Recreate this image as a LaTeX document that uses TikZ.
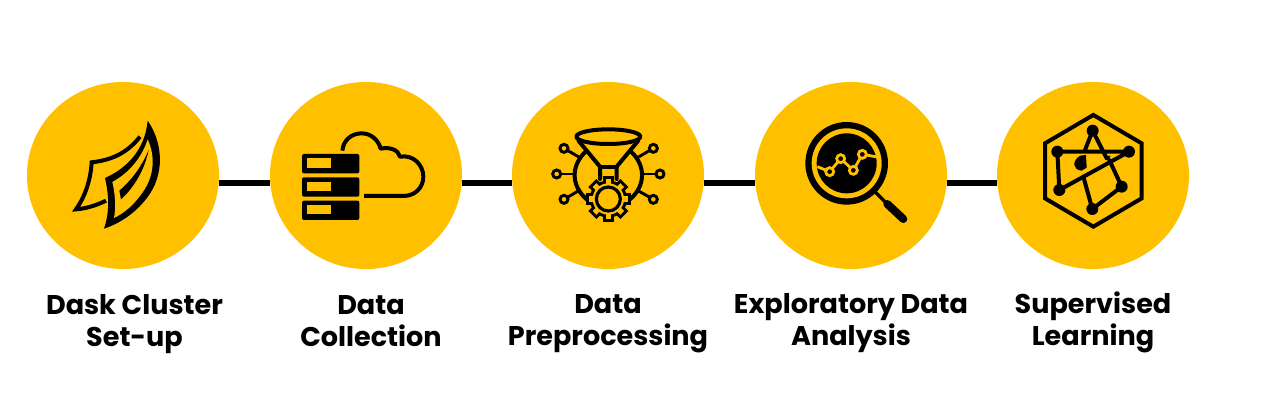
\documentclass[tikz,border=0pt]{standalone}
\usepackage{fontspec}
\setmainfont{Poppins}
\usetikzlibrary{shapes.geometric}
\definecolor{gold}{HTML}{FFC000}
\tikzset{
  stage/.style={ellipse,fill=gold,inner sep=0pt,minimum width=144pt,minimum height=140.25pt},
  link/.style={draw=black,line width=4.2pt},
  caption/.style={align=center,font=\bfseries\fontsize{20.3}{24}\selectfont,text=black,inner sep=0pt},
  ink/.style={draw=black,line width=3pt,line cap=round,line join=round},
  thin ink/.style={draw=black,line width=2.2pt,line cap=round,line join=round},
  icon/.style={x=0.25pt,y=-0.25pt}
}
\begin{document}
\begin{tikzpicture}[x=0.75pt,y=-0.75pt]
\useasboundingbox[fill=white] (0,0) rectangle (1271,416);
\node[stage] (c1) at (123,175.5) {};
\node[stage] (c2) at (366,175.5) {};
\node[stage] (c3) at (608,175.5) {};
\node[stage] (c4) at (851,175.5) {};
\node[stage] (c5) at (1093,175.5) {};
\foreach \a/\b in {c1/c2,c2/c3,c3/c4,c4/c5}
  \draw[link] ([yshift=-5.6pt]\a.east) -- ([yshift=-5.6pt]\b.west);

% Dask
\begin{scope}[shift={(50,100)},icon]
\fill (293,62) .. controls (340,130) and (345,225) .. (290,295)
  .. controls (255,340) and (210,370) .. (162,386)
  .. controls (178,340) and (178,290) .. (165,234)
  .. controls (230,205) and (285,150) .. (293,62) -- cycle;
\fill[gold] (293,118) .. controls (317,170) and (314,232) .. (272,285)
  .. controls (250,315) and (225,338) .. (192,354)
  .. controls (198,320) and (196,285) .. (187,246)
  .. controls (235,220) and (275,175) .. (293,118) -- cycle;
\fill (296,150) .. controls (285,205) and (255,260) .. (213,298)
  .. controls (211,288) and (210,280) .. (208,272)
  .. controls (245,240) and (275,200) .. (296,150) -- cycle;
\draw[line width=3pt,line join=miter,miter limit=8]
  (270,110) .. controls (235,155) and (190,180) .. (125,187)
  .. controls (122,240) and (105,290) .. (78,328)
  .. controls (105,326) and (135,318) .. (168,302);
\end{scope}

% Cloud and servers
\begin{scope}[shift={(290,115)},icon]
\foreach \y in {117,187,257}{
  \fill[rounded corners=1.5pt] (36,\y) rectangle (208,\y+58);
  \fill[gold] (52,\y+13) rectangle (122,\y+41);
}
\draw[ink,line cap=butt] (157,107) .. controls (160,75) and (185,55) .. (215,55)
  .. controls (243,55) and (265,75) .. (272,101)
  .. controls (300,95) and (325,105) .. (330,125)
  .. controls (370,118) and (400,150) .. (400,185)
  .. controls (400,218) and (375,243) .. (340,243) -- (222,243);
\end{scope}

% Preprocessing
\begin{scope}[shift={(540,115)},icon]
\draw[ink] (205,65) ellipse [x radius=96,y radius=22];
\draw[ink] (116,78) -- (180,155) -- (180,192);
\draw[ink] (294,78) -- (230,155) -- (230,192);
\draw[ink] (180,155) -- (230,155);
\draw[ink] (139,108) .. controls (92,150) and (92,212) .. (140,253);
\draw[ink] (271,108) .. controls (318,150) and (318,212) .. (270,253);
\foreach \a in {0,45,...,315}
  \fill[rotate around={\a:(205,252)}] (188,184) rectangle (222,210);
\fill (205,252) circle [radius=56];
\foreach \a in {0,45,...,315}
  \fill[gold,rotate around={\a:(205,252)}] (197,193) rectangle (213,210);
\fill[gold] (205,252) circle [radius=47];
\draw[line width=2.4pt,draw=black] (205,252) circle [radius=36];
\foreach \x/\y in {72/100,340/100,50/177,360/177,72/253,340/253}
  \draw[line width=2.2pt] (\x,\y) circle [radius=12];
\draw[thin ink] (84,107) -- (120,128);
\draw[thin ink] (328,107) -- (292,128);
\draw[thin ink] (63,177) -- (105,177);
\draw[thin ink] (347,177) -- (305,177);
\draw[thin ink] (84,246) -- (118,226);
\draw[thin ink] (328,246) -- (292,226);
\end{scope}

% EDA
\begin{scope}[shift={(790,110)},icon]
\draw[line width=6pt,line cap=round] (292,282) -- (340,327);
\draw[line width=2.5pt] (255,245) -- (300,290);
\fill (170,160) circle [radius=124];
\fill[gold] (170,160) circle [radius=105];
\fill (170,160) circle [radius=90];
\draw[draw=gold,line width=2.1pt,line join=round] (82,170) -- (119,185) -- (152,146) -- (190,181) -- (217,133) -- (262,141);
\foreach \x/\y in {119/185,152/146,190/181,217/133}
  \draw[draw=gold,fill=black,line width=2.1pt] (\x,\y) circle [radius=12];
\end{scope}

% Supervised learning
\begin{scope}[shift={(1030,105)},icon]
\draw[line width=3pt,line join=miter] (190,30) -- (335,115) -- (335,280) -- (190,365) -- (45,280) -- (45,115) -- cycle;
\draw[thin ink,line width=3pt] (82,140) -- (297,140) -- (88,255) -- cycle;
\draw[thin ink,line width=3pt] (188,77) -- (230,160);
\draw[thin ink,line width=3pt] (238,165) -- (275,245) -- (187,312) -- (160,215);
\draw[thin ink,line width=3pt] (188,77) -- (165,135);
\foreach \x/\y in {188/77,82/140,297/140,88/255,275/245,187/312}
  \fill (\x,\y) circle [radius=18];
\fill (168,150) -- (150,152) .. controls (125,168) and (128,195) .. (155,197) -- (170,188) -- cycle;
\fill (222,153) -- (242,153) -- (232,166) -- cycle;
\end{scope}

\node[caption] (t1) at (134.5,324) {Dask Cluster\\Set-up};
\node[caption] (t2) at (371,321) {Data\\Collection};
\node[caption] (t3) at (608,324) {Data\\Preprocessing};
\node[caption] (t4) at (851,323) {Exploratory Data\\Analysis};
\node[caption] (t5) at (1093,322) {Supervised\\Learning};
\end{tikzpicture}
\end{document}
